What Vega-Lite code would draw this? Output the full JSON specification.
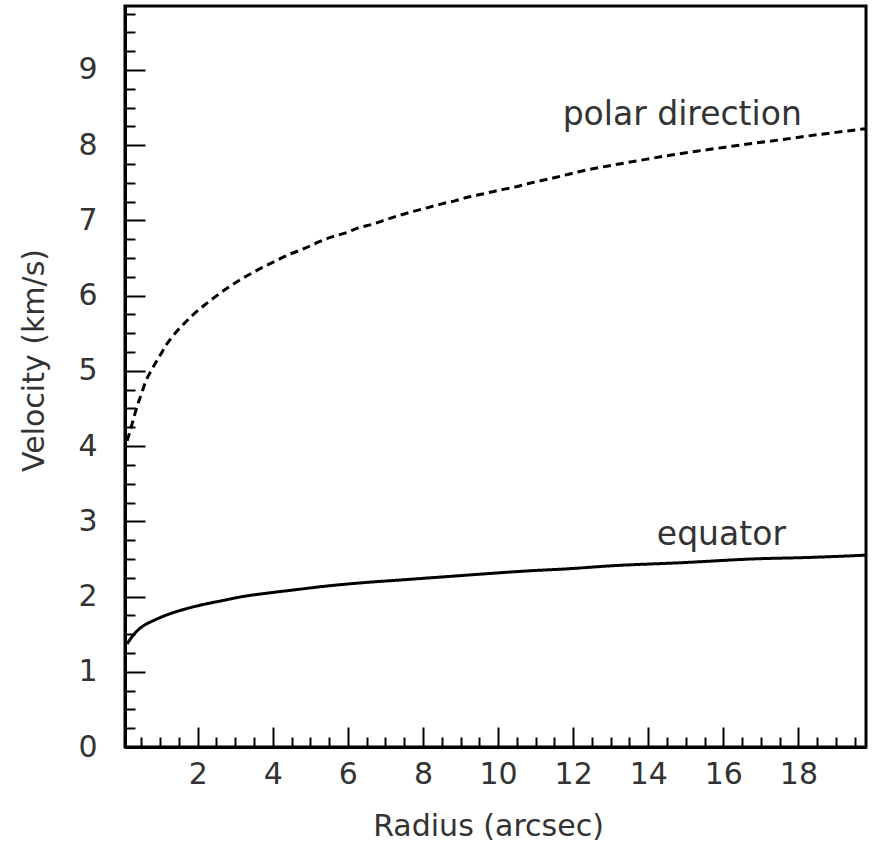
{
  "$schema": "https://vega.github.io/schema/vega-lite/v6.json",
  "width": 741,
  "height": 741,
  "padding": {"left": 125, "top": 6, "right": 6, "bottom": 103},
  "autosize": {"type": "none"},
  "background": "white",
  "config": {
    "view": {"stroke": "black", "strokeWidth": 3},
    "font": "DejaVu Sans"
  },
  "datasets": {
    "curves": [
      {"series": "polar", "r": 0.12, "v": 4.07},
      {"series": "polar", "r": 0.2, "v": 4.2},
      {"series": "polar", "r": 0.3, "v": 4.38},
      {"series": "polar", "r": 0.4, "v": 4.55},
      {"series": "polar", "r": 0.5, "v": 4.69},
      {"series": "polar", "r": 0.6, "v": 4.84},
      {"series": "polar", "r": 0.78, "v": 5.02},
      {"series": "polar", "r": 0.98, "v": 5.19},
      {"series": "polar", "r": 1.17, "v": 5.35},
      {"series": "polar", "r": 1.4, "v": 5.5},
      {"series": "polar", "r": 1.66, "v": 5.64},
      {"series": "polar", "r": 1.93, "v": 5.77},
      {"series": "polar", "r": 2.22, "v": 5.89},
      {"series": "polar", "r": 2.51, "v": 6.0},
      {"series": "polar", "r": 2.82, "v": 6.11},
      {"series": "polar", "r": 3.13, "v": 6.21},
      {"series": "polar", "r": 3.48, "v": 6.31},
      {"series": "polar", "r": 3.79, "v": 6.39},
      {"series": "polar", "r": 4.15, "v": 6.48},
      {"series": "polar", "r": 4.5, "v": 6.56},
      {"series": "polar", "r": 4.86, "v": 6.63},
      {"series": "polar", "r": 5.21, "v": 6.71},
      {"series": "polar", "r": 5.57, "v": 6.78},
      {"series": "polar", "r": 5.92, "v": 6.83},
      {"series": "polar", "r": 6.28, "v": 6.9},
      {"series": "polar", "r": 6.66, "v": 6.95},
      {"series": "polar", "r": 7.02, "v": 7.01},
      {"series": "polar", "r": 7.39, "v": 7.07},
      {"series": "polar", "r": 7.74, "v": 7.12},
      {"series": "polar", "r": 8.13, "v": 7.17},
      {"series": "polar", "r": 8.5, "v": 7.22},
      {"series": "polar", "r": 8.85, "v": 7.26},
      {"series": "polar", "r": 9.21, "v": 7.31},
      {"series": "polar", "r": 9.59, "v": 7.35},
      {"series": "polar", "r": 10.01, "v": 7.4},
      {"series": "polar", "r": 10.41, "v": 7.44},
      {"series": "polar", "r": 10.81, "v": 7.49},
      {"series": "polar", "r": 11.16, "v": 7.53},
      {"series": "polar", "r": 11.52, "v": 7.57},
      {"series": "polar", "r": 12.18, "v": 7.65},
      {"series": "polar", "r": 13.0, "v": 7.73},
      {"series": "polar", "r": 13.69, "v": 7.79},
      {"series": "polar", "r": 14.5, "v": 7.86},
      {"series": "polar", "r": 15.29, "v": 7.92},
      {"series": "polar", "r": 16.0, "v": 7.97},
      {"series": "polar", "r": 16.71, "v": 8.02},
      {"series": "polar", "r": 17.5, "v": 8.07},
      {"series": "polar", "r": 18.22, "v": 8.12},
      {"series": "polar", "r": 19.0, "v": 8.17},
      {"series": "polar", "r": 19.8, "v": 8.22},
      {"series": "equator", "r": 0.12, "v": 1.37},
      {"series": "equator", "r": 0.2, "v": 1.43},
      {"series": "equator", "r": 0.38, "v": 1.54},
      {"series": "equator", "r": 0.55, "v": 1.61},
      {"series": "equator", "r": 0.82, "v": 1.68},
      {"series": "equator", "r": 1.2, "v": 1.76},
      {"series": "equator", "r": 1.71, "v": 1.84},
      {"series": "equator", "r": 2.2, "v": 1.9},
      {"series": "equator", "r": 2.6, "v": 1.94},
      {"series": "equator", "r": 3.2, "v": 2.0},
      {"series": "equator", "r": 3.93, "v": 2.05},
      {"series": "equator", "r": 4.6, "v": 2.09},
      {"series": "equator", "r": 5.26, "v": 2.13},
      {"series": "equator", "r": 6.3, "v": 2.18},
      {"series": "equator", "r": 7.4, "v": 2.22},
      {"series": "equator", "r": 8.5, "v": 2.26},
      {"series": "equator", "r": 9.6, "v": 2.3},
      {"series": "equator", "r": 10.76, "v": 2.34},
      {"series": "equator", "r": 11.9, "v": 2.37},
      {"series": "equator", "r": 13.06, "v": 2.41},
      {"series": "equator", "r": 14.9, "v": 2.45},
      {"series": "equator", "r": 16.8, "v": 2.5},
      {"series": "equator", "r": 18.3, "v": 2.52},
      {"series": "equator", "r": 19.8, "v": 2.55}
    ],
    "labels": [
      {"text": "polar direction", "r": 11.72, "v": 8.27},
      {"text": "equator", "r": 14.23, "v": 2.68}
    ]
  },
  "resolve": {"axis": {"x": "independent", "y": "independent"}},
  "layer": [
    {
      "data": {"name": "curves"},
      "mark": {"type": "line", "color": "black", "strokeWidth": 3, "clip": true, "interpolate": "monotone"},
      "encoding": {
        "x": {
          "field": "r", "type": "quantitative",
          "scale": {"domain": [0.064, 19.8], "nice": false, "zero": false},
          "axis": {
            "orient": "bottom",
            "title": "Radius (arcsec)",
            "values": [2,4,6,8,10,12,14,16,18],
            "domain": true, "domainColor": "black", "domainWidth": 3,
            "grid": false,
            "ticks": true, "tickColor": "black", "tickWidth": 2, "tickSize": -20,
            "labelFont": "DejaVu Sans", "labelFontSize": 30, "labelColor": "#333",
            "labelPadding": 32, "labelBaseline": "top", "labelFlush": false, "labelOverlap": false,
            "titleFont": "DejaVu Sans", "titleFontSize": 30, "titleFontWeight": "normal", "titleColor": "#333",
            "titleX": 363, "titleY": 88, "titleBaseline": "alphabetic", "titleAlign": "center"
          }
        },
        "y": {
          "field": "v", "type": "quantitative",
          "scale": {"domain": [0, 9.85], "nice": false, "zero": false},
          "axis": {
            "orient": "left",
            "title": "Velocity (km/s)",
            "values": [0,1,2,3,4,5,6,7,8,9],
            "domain": true, "domainColor": "black", "domainWidth": 3,
            "grid": false,
            "ticks": true, "tickColor": "black", "tickWidth": 2, "tickSize": -20,
            "labelFont": "DejaVu Sans", "labelFontSize": 30, "labelColor": "#333",
            "labelPadding": 48, "labelFlush": false, "labelOverlap": false,
            "titleFont": "DejaVu Sans", "titleFontSize": 30, "titleFontWeight": "normal", "titleColor": "#333",
            "titleX": -82, "titleY": 354, "titleBaseline": "alphabetic", "titleAlign": "center", "titleAngle": -90
          }
        },
        "strokeDash": {
          "field": "series", "type": "nominal",
          "scale": {"domain": ["equator", "polar"], "range": [[1, 0], [8, 5]]},
          "legend": null
        },
        "detail": {"field": "series"}
      }
    },
    {
      "data": {"name": "labels"},
      "mark": {"type": "text", "align": "left", "baseline": "alphabetic", "font": "DejaVu Sans", "fontSize": 33, "color": "#333"},
      "encoding": {
        "x": {
          "field": "r", "type": "quantitative",
          "axis": {
            "orient": "bottom",
            "title": null,
            "values": [0.5,1,1.5,2.5,3,3.5,4.5,5,5.5,6.5,7,7.5,8.5,9,9.5,10.5,11,11.5,12.5,13,13.5,14.5,15,15.5,16.5,17,17.5,18.5,19,19.5],
            "labels": false,
            "domain": false,
            "grid": false,
            "ticks": true, "tickColor": "black", "tickWidth": 2, "tickSize": -10
          }
        },
        "y": {
          "field": "v", "type": "quantitative",
          "axis": {
            "orient": "left",
            "title": null,
            "values": [0.25,0.5,0.75,1.25,1.5,1.75,2.25,2.5,2.75,3.25,3.5,3.75,4.25,4.5,4.75,5.25,5.5,5.75,6.25,6.5,6.75,7.25,7.5,7.75,8.25,8.5,8.75,9.25,9.5,9.75],
            "labels": false,
            "domain": false,
            "grid": false,
            "ticks": true, "tickColor": "black", "tickWidth": 2, "tickSize": -10
          }
        },
        "text": {"field": "text"}
      }
    }
  ]
}
